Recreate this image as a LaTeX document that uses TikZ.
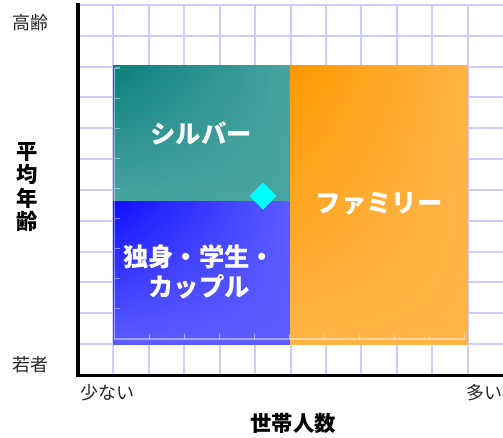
\documentclass[tikz,border=0pt]{standalone}
\usepackage{fontspec}
\setmainfont{Noto Sans CJK JP}
\usetikzlibrary{shadings}
\definecolor{gridline}{HTML}{CCCCFF}
\definecolor{silverdark}{HTML}{0A7E7D}
\definecolor{silverlight}{HTML}{48A4A1}
\definecolor{singledark}{HTML}{0F0FFF}
\definecolor{singlelight}{HTML}{5C5CFF}
\definecolor{familydark}{HTML}{FF9800}
\definecolor{familylight}{HTML}{FFB446}
\definecolor{markercyan}{HTML}{00FFFF}
\tikzset{
  gridstyle/.style={gridline, line width=1.5pt},
  innerline/.style={white, opacity=0.45, line width=0.8pt},
  labeltext/.style={font=\fontsize{13.5}{15}\selectfont, text=black!85},
  titletext/.style={font=\fontsize{16}{17.6}\selectfont\bfseries, text=black},
  zonetext/.style={font=\fontsize{19}{22.5}\selectfont\bfseries, text=white, align=center}
}
\begin{document}
\begin{tikzpicture}[x=0.75pt,y=0.75pt,yscale=-1]
\useasboundingbox (0,0) rectangle (503,437);

%Grid
\foreach \k in {1,...,11}
  \draw[gridstyle] (78+35.42*\k,5) -- (78+35.42*\k,375);
\foreach \k in {0,...,11}
  \draw[gridstyle] (78,5+30.83*\k) -- (503,5+30.83*\k);

%Shape: zones
\shade[upper left=silverdark, upper right=silverlight, lower left=silverlight, lower right=silverlight] (113,65) rectangle (290,201.5);
\shade[upper left=singledark, upper right=singlelight, lower left=singlelight, lower right=singlelight] (113,201.5) rectangle (290,344);
\shade[upper left=familydark, upper right=familylight, lower left=familylight, lower right=familylight] (290,65) rectangle (468,344);

%Inner axis with ticks
\draw[innerline] (114.5,68) -- (114.5,339) -- (465,339);
\draw[innerline] (114.5,68) -- ++(5,0);
\foreach \k in {1,...,8}
  \draw[innerline] (114.5,68+30.1*\k) -- ++(5,0);
\foreach \k in {1,...,10}
  \draw[innerline] (114.5+35*\k,339) -- ++(0,-5);

%Shape: marker
\fill[markercyan] (263,182.5) -- (276.5,196) -- (263,209.5) -- (249.5,196) -- cycle;

% Text Node
\node[zonetext] (silver) at (201,133) {シルバー};
\node[zonetext] (family) at (379,204) {ファミリー};
\node[zonetext] (single) at (199,272) {独身・学生・\\カップル};

% Text Node
\node[labeltext] (old) at (30.5,23) {高齢};
\node[labeltext] (young) at (30.5,365) {若者};
\node[labeltext] (few) at (107.5,393) {少ない};
\node[labeltext, inner xsep=0pt] (many) at (484.5,393) {多い};
\node[titletext, align=center] (age) at (27,187) {平\\均\\年\\齢};
\node[titletext] (household) at (293,423) {世帯人数};

%Shape: Axis 2D
\draw[line width=2.3pt] (78,3) -- (78,375.5) -- (503,375.5);

\end{tikzpicture}
\end{document}
